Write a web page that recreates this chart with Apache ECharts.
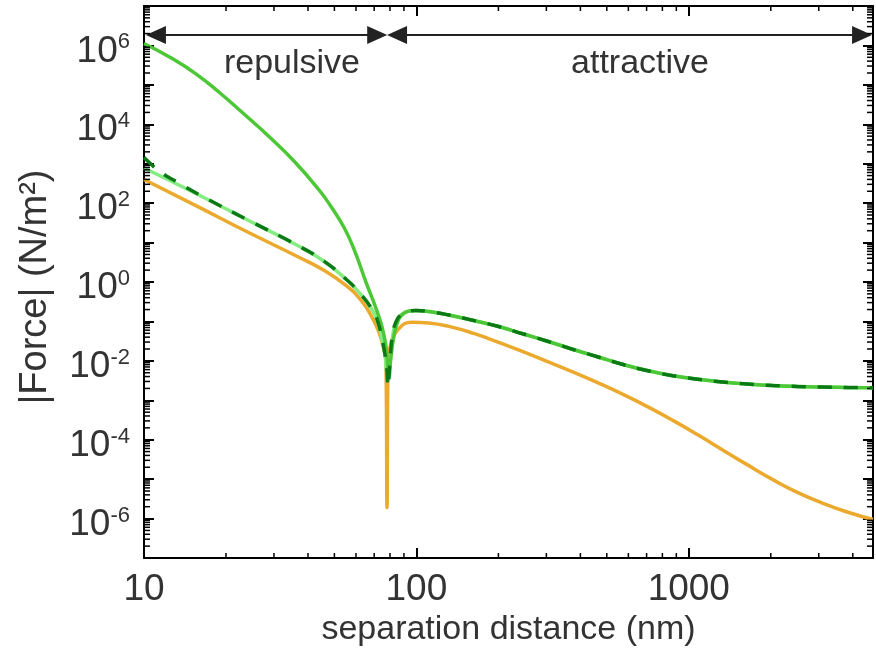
<!DOCTYPE html>
<html><head><meta charset="utf-8">
<script src="https://cdn.jsdelivr.net/npm/echarts@6/dist/echarts.min.js"></script>
<style>html,body{margin:0;padding:0;background:#fff}#c{width:876px;height:654px}</style>
</head><body><div id="c"></div>
<script>
// ---- data ----
// attractive-range tail shared by the three green curves
const greenTailX = [99.58, 111.1, 131.5, 162.3, 200.4, 247.2, 305.1, 376.6, 464.8, 573.7, 708.0, 873.9, 1078.6, 1331.2, 1643.1, 2028.1, 2503.2, 3089.9, 3813.3, 4745];
const greenTailY = [0.1893, 0.1786, 0.1456, 0.1056, 0.0744, 0.0480, 0.0310, 0.0194, 0.01253, 0.00808, 0.00560, 0.00420, 0.00341, 0.00291, 0.00259, 0.00237, 0.00224, 0.00216, 0.00211, 0.00209];

const strongHeadX = [10, 12.45, 15.37, 18.96, 23.40, 28.88, 35.66, 44.01, 49.0, 54.32, 59.09, 65.38, 70.52, 74.79, 77.35, 79.34, 80.5, 82.7, 86.0, 90, 94];
const strongHeadY = [1.12e6, 5.0e5, 1.98e5, 6.3e4, 1.77e4, 4.76e3, 1.14e3, 212, 75, 23.7, 6.6, 0.97, 0.248, 0.0727, 0.0226, 0.0040, 0.011, 0.042, 0.112, 0.160, 0.183];

const lightHeadX = [10, 16.03, 24.41, 37.19, 45.90, 55.24, 62.68, 68.77, 72.32, 74.79, 76.7, 78.0, 80.0, 81.5, 84, 88, 94];
const lightHeadY = [778, 156, 35.2, 7.96, 3.31, 1.16, 0.48, 0.20, 0.094, 0.035, 0.0145, 0.0051, 0.012, 0.035, 0.093, 0.15, 0.183];

const dashHeadX = [10, 11.44, 13.31, 16.03, 24.41, 37.19, 45.90, 55.24, 62.68, 68.77, 72.32, 74.79, 76.7, 78.0, 78.6, 80.0, 81.5, 84, 88, 94];
const dashHeadY = [1430, 634, 334, 161, 35.5, 8.0, 3.33, 1.17, 0.48, 0.20, 0.094, 0.035, 0.0145, 0.0055, 0.0022, 0.010, 0.040, 0.095, 0.15, 0.183];

const orangeX = [10, 16.03, 23.40, 37.19, 45.90, 55.24, 62.68, 68.77, 72.94, 76.06, 77.35, 78.0, 78.67, 80.0, 82.7, 87.8, 92.0, 96.28, 111.1, 131.5, 162.3, 200.4, 247.2, 305.1, 376.6, 464.8, 573.7, 708.0, 873.9, 1078.6, 1331.2, 1643.1, 2028.1, 2503.2, 3089.9, 3813.3, 4745];
const orangeY = [398, 77, 20.2, 4.18, 1.96, 0.81, 0.34, 0.126, 0.052, 0.0194, 0.0081, 1.9e-6, 0.0081, 0.022, 0.044, 0.074, 0.092, 0.0955, 0.0912, 0.0748, 0.0497, 0.0294, 0.01688, 0.00941, 0.00516, 0.00276, 0.00141, 6.80e-4, 3.09e-4, 1.33e-4, 5.52e-5, 2.30e-5, 9.86e-6, 4.61e-6, 2.48e-6, 1.47e-6, 9.48e-7];

const xMin = 10, xMax = 4745;
const yMin = 1e-7, yMax = 1e7;
const xTickLabels = ['10', '100', '1000'];
const minorMultipliers = [2, 3, 4, 5, 6, 7, 8, 9];
const arrowLevel = 1.85e6;
const repulsiveSpan = [11.06, 71.8];
const attractiveSpan = [84.9, 4325];
const regionLabels = ['repulsive', 'attractive'];

// ---- chart ----
const FONT = 'Liberation Sans, Arial, Helvetica, sans-serif';
const TXT = '#333';
const zip = (xs, ys) => xs.map((x, i) => [x, ys[i]]);
const decade = v => { const l = Math.log10(v); const e = Math.round(l); return Math.abs(l - e) < 1e-6 ? e : null; };

const minorData = [];
for (let n = -7; n < 7; n++) for (const k of minorMultipliers) minorData.push([xMin, k * Math.pow(10, n), 0]);
for (let n = 1; n < 4; n++) for (const k of minorMultipliers) { const v = k * Math.pow(10, n); if (v < xMax) minorData.push([v, yMin, 1]); }

const chart = echarts.init(document.getElementById('c'), null, {renderer: 'canvas'});
const axisCommonX = {
  type: 'log', logBase: 10, min: xMin, max: xMax, interval: 1,
  splitLine: {show: false},
  axisLine: {show: true, lineStyle: {color: '#000', width: 2}},
  axisTick: {show: true, inside: true, length: 10, lineStyle: {color: '#000', width: 2}}
};
const axisCommonY = {
  type: 'log', logBase: 10, min: yMin, max: yMax, interval: 1,
  splitLine: {show: false},
  axisLine: {show: true, lineStyle: {color: '#000', width: 2}},
  axisTick: {show: true, inside: true, length: 10, lineStyle: {color: '#000', width: 2}}
};
const option = {
  animation: false,
  backgroundColor: '#fff',
  grid: {left: 144, right: 0, top: 6, bottom: 96},
  xAxis: [
    Object.assign({}, axisCommonX, {
      position: 'bottom',
      name: 'separation distance (nm)', nameLocation: 'middle', nameGap: 51,
      nameTextStyle: {fontFamily: FONT, fontSize: 34, color: TXT},
      axisLabel: {
        margin: 13, fontFamily: FONT, fontSize: 37, color: TXT,
        formatter: v => { const e = decade(v); return (e !== null && e >= 1 && e <= 3) ? xTickLabels[e - 1] : ''; }
      }
    }),
    Object.assign({}, axisCommonX, {position: 'top', axisLabel: {show: false}})
  ],
  yAxis: [
    Object.assign({}, axisCommonY, {
      position: 'left',
      name: '|Force| (N/m²)', nameLocation: 'middle', nameGap: 89, nameRotate: 90,
      nameTextStyle: {fontFamily: FONT, fontSize: 38, color: TXT, padding: [0, 10, 0, 0]},
      axisLabel: {
        margin: 14, fontFamily: FONT, color: TXT, padding: [12, 0, 0, 0],
        formatter: v => { const e = decade(v); return (e !== null && e % 2 === 0) ? '{b|10}{s|' + e + '}' : ''; },
        rich: {
          b: {fontFamily: FONT, fontSize: 37, color: TXT, lineHeight: 40},
          s: {fontFamily: FONT, fontSize: 22, color: TXT, verticalAlign: 'top', lineHeight: 26}
        }
      }
    }),
    Object.assign({}, axisCommonY, {position: 'right', axisLabel: {show: false}})
  ],
  graphic: [
    {type: 'text', x: 292, y: 64, style: {text: regionLabels[0], font: '34px ' + FONT, fill: TXT, textAlign: 'center', textVerticalAlign: 'middle'}},
    {type: 'text', x: 640, y: 64, style: {text: regionLabels[1], font: '34px ' + FONT, fill: TXT, textAlign: 'center', textVerticalAlign: 'middle'}}
  ],
  series: [
    {
      type: 'custom', name: 'minor ticks', silent: true, z: 5,
      data: minorData,
      renderItem: (params, api) => {
        const cs = params.coordSys;
        const p = api.coord([api.value(0), api.value(1)]);
        const st = {stroke: '#000', lineWidth: 1.5};
        if (api.value(2) === 0) {
          return {type: 'group', children: [
            {type: 'line', shape: {x1: cs.x, y1: p[1], x2: cs.x + 6, y2: p[1]}, style: st},
            {type: 'line', shape: {x1: cs.x + cs.width - 6, y1: p[1], x2: cs.x + cs.width, y2: p[1]}, style: st}
          ]};
        }
        return {type: 'group', children: [
          {type: 'line', shape: {x1: p[0], y1: cs.y + cs.height, x2: p[0], y2: cs.y + cs.height - 5}, style: st},
          {type: 'line', shape: {x1: p[0], y1: cs.y, x2: p[0], y2: cs.y + 5}, style: st}
        ]};
      }
    },
    {
      type: 'line', name: 'orange', data: zip(orangeX, orangeY), showSymbol: false, smooth: 0.5,
      lineStyle: {color: '#EBAA2E', width: 3.5}, z: 2,
      markLine: {
        silent: true, symbol: ['triangle', 'triangle'], symbolSize: [18, 20],
        label: {show: false},
        lineStyle: {color: '#222', width: 2, type: 'solid'},
        itemStyle: {color: '#222'},
        data: [
          [{coord: [repulsiveSpan[0], arrowLevel]}, {coord: [repulsiveSpan[1], arrowLevel]}],
          [{coord: [attractiveSpan[0], arrowLevel]}, {coord: [attractiveSpan[1], arrowLevel]}]
        ]
      }
    },
    {type: 'line', name: 'light', data: zip(lightHeadX.concat(greenTailX), lightHeadY.concat(greenTailY)), showSymbol: false, smooth: 0.5,
      lineStyle: {color: '#84EC80', width: 3.5}, z: 3},
    {type: 'line', name: 'strong', data: zip(strongHeadX.concat(greenTailX), strongHeadY.concat(greenTailY)), showSymbol: false, smooth: 0.5,
      lineStyle: {color: '#4CC836', width: 3.5}, z: 4},
    {type: 'line', name: 'dashed', data: zip(dashHeadX.concat(greenTailX), dashHeadY.concat(greenTailY)), showSymbol: false, smooth: 0.5,
      lineStyle: {color: '#0B7A16', width: 3.5, type: [14, 12]}, z: 5}
  ]
};
chart.setOption(option);
</script>
</body></html>
